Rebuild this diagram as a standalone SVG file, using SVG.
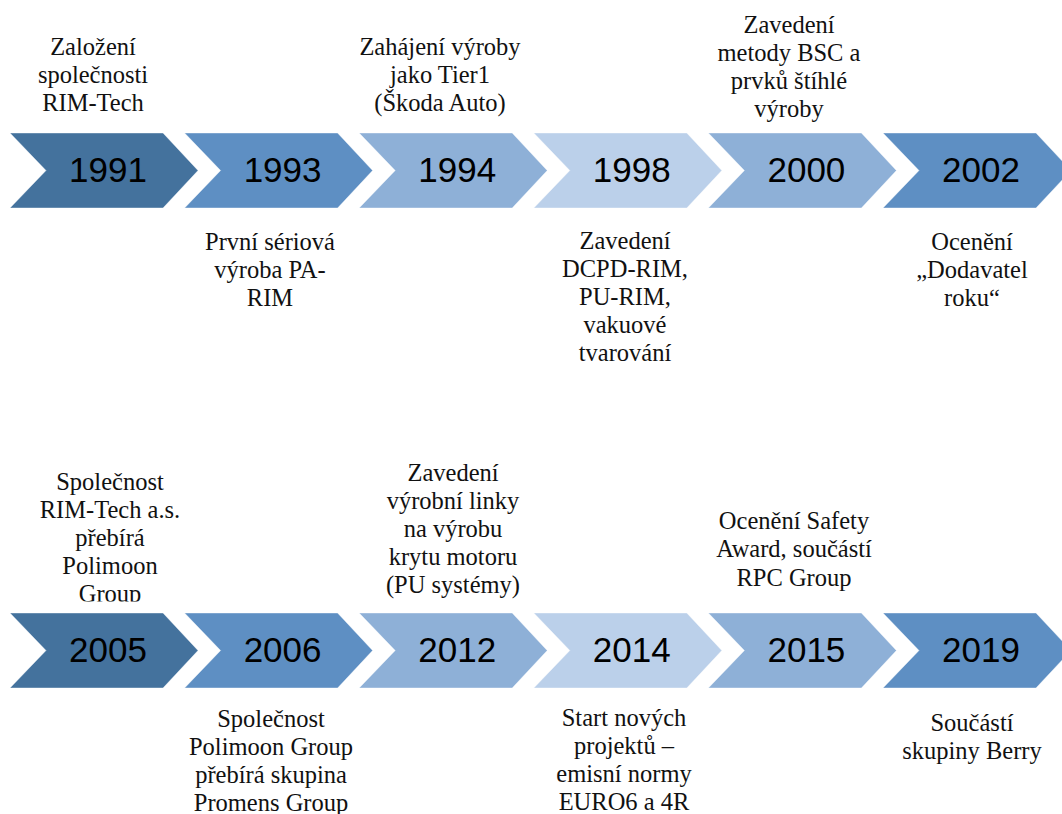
<svg xmlns="http://www.w3.org/2000/svg" width="1062" height="814" viewBox="0 0 1062 814">
  <style>
    .yr { font-family: "Liberation Sans", Arial, sans-serif; font-size: 35px; fill: #000; text-anchor: middle; }
    .lbl { font-family: 'Liberation Serif', 'DejaVu Serif', 'Noto Serif', serif; font-size: 24.5px; fill: #111; text-anchor: middle; }
    .c1 { fill: #44729D; }
    .c2 { fill: #5E8FC3; }
    .c3 { fill: #8EB0D7; }
    .c4 { fill: #BBD0EA; }
    .chev { stroke: #ffffff; stroke-width: 0.8; stroke-opacity: 0.5; }
  </style>
  <defs>
    <path id="chev" d="M0,0 L153,0 L188,37.5 L153,75 L0,75 L36,37.5 Z"/>
    <clipPath id="row2clip"><rect x="0" y="0" width="1062" height="601.5"/></clipPath>
  </defs>
  <rect x="0" y="0" width="1062" height="814" fill="#ffffff"/>

  <!-- Row 1 -->
  <g id="n1991">
    <use href="#chev" class="chev c1" x="10" y="133"/>
    <text class="yr" x="108" y="182">1991</text>
    <text class="lbl" font-family="Liberation Serif, serif"><tspan x="93" y="55">Založení</tspan><tspan x="93" y="83">společnosti</tspan><tspan x="93" y="111">RIM-Tech</tspan></text>
  </g>
  <g id="n1993">
    <use href="#chev" class="chev c2" x="184.6" y="133"/>
    <text class="yr" x="282.6" y="182">1993</text>
    <text class="lbl"><tspan x="270" y="250">První sériová</tspan><tspan x="270" y="278">výroba PA-</tspan><tspan x="270" y="306">RIM</tspan></text>
  </g>
  <g id="n1994">
    <use href="#chev" class="chev c3" x="359.2" y="133"/>
    <text class="yr" x="457.2" y="182">1994</text>
    <text class="lbl"><tspan x="440" y="55">Zahájení výroby</tspan><tspan x="440" y="83">jako Tier1</tspan><tspan x="440" y="111">(Škoda Auto)</tspan></text>
  </g>
  <g id="n1998">
    <use href="#chev" class="chev c4" x="533.8" y="133"/>
    <text class="yr" x="631.8" y="182">1998</text>
    <text class="lbl"><tspan x="625" y="249">Zavedení</tspan><tspan x="625" y="277">DCPD-RIM,</tspan><tspan x="625" y="305">PU-RIM,</tspan><tspan x="625" y="333">vakuové</tspan><tspan x="625" y="361">tvarování</tspan></text>
  </g>
  <g id="n2000">
    <use href="#chev" class="chev c3" x="708.4" y="133"/>
    <text class="yr" x="806.4" y="182">2000</text>
    <text class="lbl"><tspan x="789" y="33">Zavedení</tspan><tspan x="789" y="61">metody BSC a</tspan><tspan x="789" y="89">prvků štíhlé</tspan><tspan x="789" y="117">výroby</tspan></text>
  </g>
  <g id="n2002">
    <use href="#chev" class="chev c2" x="883" y="133"/>
    <text class="yr" x="981" y="182">2002</text>
    <text class="lbl"><tspan x="972" y="250">Ocenění</tspan><tspan x="972" y="278">„Dodavatel</tspan><tspan x="972" y="306">roku“</tspan></text>
  </g>

  <!-- Row 2 -->
  <g id="n2005">
    <use href="#chev" class="chev c1" x="10" y="613"/>
    <text class="yr" x="108" y="662">2005</text>
    <g clip-path="url(#row2clip)">
      <text class="lbl"><tspan x="110" y="490">Společnost</tspan><tspan x="110" y="518">RIM-Tech a.s.</tspan><tspan x="110" y="546">přebírá</tspan><tspan x="110" y="574">Polimoon</tspan><tspan x="110" y="602">Group</tspan></text>
    </g>
  </g>
  <g id="n2006">
    <use href="#chev" class="chev c2" x="184.6" y="613"/>
    <text class="yr" x="282.6" y="662">2006</text>
    <text class="lbl"><tspan x="271" y="727">Společnost</tspan><tspan x="271" y="755">Polimoon Group</tspan><tspan x="271" y="783">přebírá skupina</tspan><tspan x="271" y="811">Promens Group</tspan></text>
  </g>
  <g id="n2012">
    <use href="#chev" class="chev c3" x="359.2" y="613"/>
    <text class="yr" x="457.2" y="662">2012</text>
    <g clip-path="url(#row2clip)">
      <text class="lbl"><tspan x="453" y="481">Zavedení</tspan><tspan x="453" y="509">výrobní linky</tspan><tspan x="453" y="537">na výrobu</tspan><tspan x="453" y="565">krytu motoru</tspan><tspan x="453" y="593">(PU systémy)</tspan></text>
    </g>
  </g>
  <g id="n2014">
    <use href="#chev" class="chev c4" x="533.8" y="613"/>
    <text class="yr" x="631.8" y="662">2014</text>
    <text class="lbl"><tspan x="624" y="726">Start nových</tspan><tspan x="624" y="754">projektů –</tspan><tspan x="624" y="782">emisní normy</tspan><tspan x="624" y="810">EURO6 a 4R</tspan></text>
  </g>
  <g id="n2015">
    <use href="#chev" class="chev c3" x="708.4" y="613"/>
    <text class="yr" x="806.4" y="662">2015</text>
    <text class="lbl"><tspan x="794" y="529">Ocenění Safety</tspan><tspan x="794" y="557">Award, součástí</tspan><tspan x="794" y="586">RPC Group</tspan></text>
  </g>
  <g id="n2019">
    <use href="#chev" class="chev c2" x="883" y="613"/>
    <text class="yr" x="981" y="662">2019</text>
    <text class="lbl"><tspan x="972" y="731">Součástí</tspan><tspan x="972" y="759">skupiny Berry</tspan></text>
  </g>

  <g id="connectors"/>
</svg>
